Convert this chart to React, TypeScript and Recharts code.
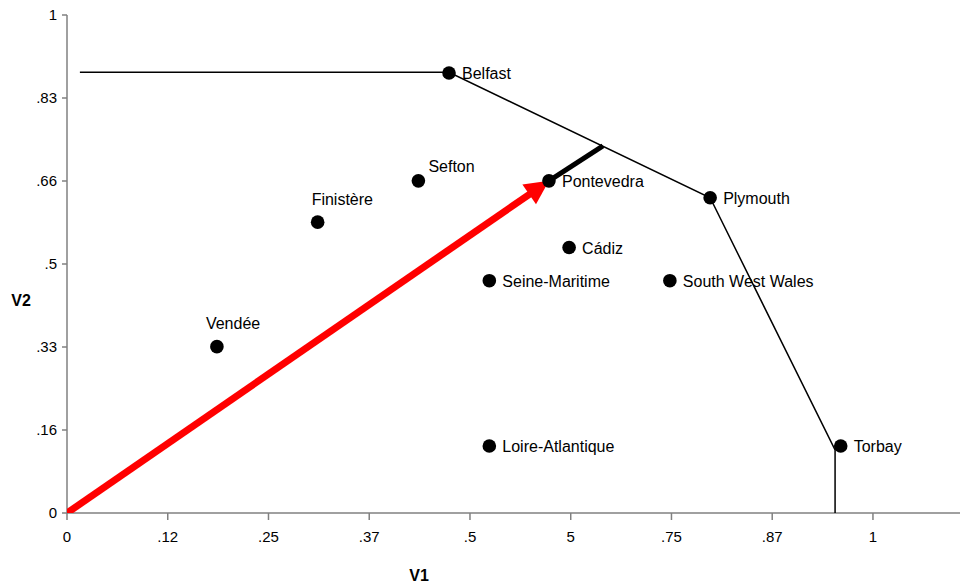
import React from 'react';
import { ScatterChart, Scatter, XAxis, YAxis, Label } from 'recharts';

const cityNames = ['Belfast', 'Sefton', 'Pontevedra', 'Finistère', 'Plymouth', 'Cádiz', 'Seine-Maritime', 'South West Wales', 'Vendée', 'Loire-Atlantique', 'Torbay'];
const cityV1 = [0.474, 0.436, 0.598, 0.311, 0.798, 0.623, 0.524, 0.748, 0.186, 0.524, 0.96];
const cityV2 = [0.8835, 0.667, 0.667, 0.584, 0.633, 0.533, 0.4665, 0.4665, 0.334, 0.1345, 0.1345];

const frontierV1 = [0.016, 0.474, 0.798, 0.953, 0.953];
const frontierV2 = [0.885, 0.885, 0.633, 0.1265, 0];

const arrowV1 = [0, 0.598];
const arrowV2 = [0, 0.667];

const projectionV1 = [0.598, 0.665];
const projectionV2 = [0.667, 0.737];

const xTicks = [0, 0.125, 0.25, 0.375, 0.5, 0.625, 0.75, 0.875, 1];
const xTickLabels = ['0', '.12', '.25', '.37', '.5', '5', '.75', '.87', '1'];
const yTicks = [0, 1 / 6, 2 / 6, 3 / 6, 4 / 6, 5 / 6, 1];
const yTickLabels = ['0', '.16', '.33', '.5', '.66', '.83', '1'];

const cities = cityNames.map((name, i) => ({ name, x: cityV1[i], y: cityV2[i] }));
const frontier = frontierV1.map((x, i) => ({ x, y: frontierV2[i] }));
const arrow = arrowV1.map((x, i) => ({ x, y: arrowV2[i] }));
const projection = projectionV1.map((x, i) => ({ x, y: projectionV2[i] }));

const FONT = '"Liberation Sans", Arial, sans-serif';

const labelOffsets: Record<string, [number, number]> = {
  Sefton: [10, -9],
  'Finistère': [-6, -17],
  'Vendée': [-11, -18],
};

const CityShape = (props: any) => {
  const { cx, cy, payload } = props;
  const off = labelOffsets[payload.name] || [13, 6];
  return (
    <g>
      <circle cx={cx} cy={cy} r={6.8} fill="#000" />
      <text x={cx + off[0]} y={cy + off[1]} fontFamily={FONT} fontSize={16} fill="#000">
        {payload.name}
      </text>
    </g>
  );
};

const Empty = () => <g />;

const ArrowLine = (props: any) => {
  const pts = props.points;
  if (!pts || pts.length < 2) return <g />;
  const p0 = pts[0];
  const p1 = pts[pts.length - 1];
  const dx = p1.x - p0.x;
  const dy = p1.y - p0.y;
  const len = Math.sqrt(dx * dx + dy * dy);
  const ux = dx / len;
  const uy = dy / len;
  const headLen = 24;
  const hw = 12;
  const bx = p1.x - ux * headLen;
  const by = p1.y - uy * headLen;
  const px = -uy;
  const py = ux;
  return (
    <g>
      <line x1={p0.x} y1={p0.y} x2={bx + ux * 2} y2={by + uy * 2} stroke="#ff0000" strokeWidth={7} />
      <polygon
        points={`${p1.x},${p1.y} ${bx + px * hw},${by + py * hw} ${bx - px * hw},${by - py * hw}`}
        fill="#ff0000"
      />
    </g>
  );
};

export default function App() {
  return (
    <div style={{ position: 'absolute', left: 0, top: 0, width: 962, height: 587, background: '#fff' }}>
      <ScatterChart width={962} height={587} margin={{ top: 15, right: 2, bottom: 0, left: 0 }}>
        <XAxis
          type="number"
          dataKey="x"
          domain={[0, 1.108]}
          ticks={xTicks}
          allowDataOverflow
          height={74}
          interval={0}
          tickSize={7}
          tickMargin={11}
          axisLine={{ stroke: '#808080', strokeWidth: 1.5 }}
          tickLine={{ stroke: '#808080', strokeWidth: 1.5 }}
          tick={{ fill: '#000', fontSize: 15, fontFamily: FONT }}
          tickFormatter={(v: number, i: number) => xTickLabels[i]}
        >
          <Label
            content={(p: any) => (
              <text x={p.viewBox.x + 352} y={p.viewBox.y + 68} textAnchor="middle" fontFamily={FONT} fontSize={16} fontWeight="bold" fill="#000">
                V1
              </text>
            )}
          />
        </XAxis>
        <YAxis
          type="number"
          dataKey="y"
          domain={[0, 1]}
          ticks={yTicks}
          allowDataOverflow
          width={67}
          interval={0}
          tickSize={5}
          tickMargin={5}
          axisLine={{ stroke: '#808080', strokeWidth: 1.5 }}
          tickLine={{ stroke: '#808080', strokeWidth: 1.5 }}
          tick={{ fill: '#000', fontSize: 15, fontFamily: FONT }}
          tickFormatter={(v: number, i: number) => yTickLabels[i]}
        >
          <Label
            content={(p: any) => (
              <text x={p.viewBox.x + 21} y={p.viewBox.y + 291} textAnchor="middle" fontFamily={FONT} fontSize={16} fontWeight="bold" fill="#000">
                V2
              </text>
            )}
          />
        </YAxis>
        <Scatter
          data={frontier}
          line={{ stroke: '#000', strokeWidth: 1.5 }}
          shape={Empty}
          isAnimationActive={false}
        />
        <Scatter data={arrow} line={ArrowLine} shape={Empty} isAnimationActive={false} />
        <Scatter
          data={projection}
          line={{ stroke: '#000', strokeWidth: 5 }}
          shape={Empty}
          isAnimationActive={false}
        />
        <Scatter data={cities} shape={CityShape} isAnimationActive={false} />
      </ScatterChart>
    </div>
  );
}
